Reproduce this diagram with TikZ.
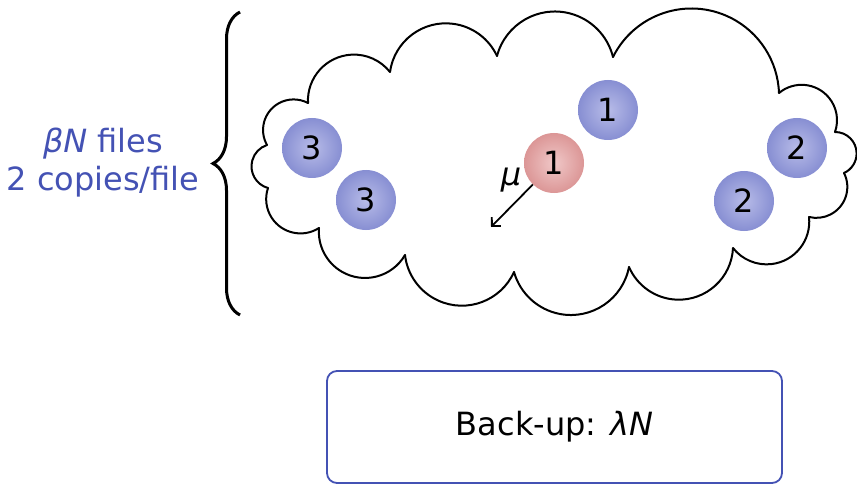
\documentclass[tikz,border=0pt]{standalone}
\usepackage{fontspec}
\setmainfont{DejaVu Sans}
\usetikzlibrary{decorations.pathreplacing,arrows.meta}
\definecolor{tblue}{RGB}{68,82,180}
\definecolor{bcin}{RGB}{184,188,232}
\definecolor{bcout}{RGB}{98,108,194}
\definecolor{rcin}{RGB}{240,200,200}
\definecolor{rcout}{RGB}{204,112,112}
\pgfdeclareradialshading{blueball}{\pgfpoint{0bp}{0bp}}{color(0bp)=(bcin); color(44bp)=(bcout); color(100bp)=(bcout)}
\pgfdeclareradialshading{redball}{\pgfpoint{0bp}{0bp}}{color(0bp)=(rcin); color(44bp)=(rcout); color(100bp)=(rcout)}
\newcommand\cloudbulb[5]{%
  \pgfmathsetmacro\cbMx{(#1+#3)/2}%
  \pgfmathsetmacro\cbMy{(#2+#4)/2}%
  \pgfmathsetmacro\cbDx{#3-#1}%
  \pgfmathsetmacro\cbDy{#4-#2}%
  \pgfmathsetmacro\cbL{veclen(\cbDx,\cbDy)}%
  \pgfmathsetmacro\cbC{\cbL/2}%
  \pgfmathsetmacro\cbR{(\cbC*\cbC+#5*#5)/(2*#5)}%
  \pgfmathsetmacro\cbNx{\cbDy/\cbL}%
  \pgfmathsetmacro\cbNy{-\cbDx/\cbL}%
  \pgfmathsetmacro\cbCx{\cbMx-(\cbR-#5)*\cbNx}%
  \pgfmathsetmacro\cbCy{\cbMy-(\cbR-#5)*\cbNy}%
  \pgfmathsetmacro\cbA{atan2(#2-\cbCy,#1-\cbCx)}%
  \pgfmathsetmacro\cbB{atan2(#4-\cbCy,#3-\cbCx)}%
  \pgfmathsetmacro\cbB{\cbB<\cbA ? \cbB+360 : \cbB}%
  \draw[cloudline] (#1,#2) arc[start angle=\cbA, end angle=\cbB, radius=\cbR];%
}
\tikzset{
  bigtext/.style={font=\fontsize{32}{38}\selectfont},
  ball/.style={circle, minimum size=60pt, inner sep=0pt, bigtext},
  blueb/.style={ball, shade, shading=blueball},
  redb/.style={ball, shade, shading=redball},
  cloudline/.style={line width=2pt, line cap=round, line join=round},
  arrowline/.style={line width=1.8pt, -{Straight Barb[length=6.4pt,width=12.8pt]}},
  bracestyle/.style={line width=3pt, decorate, decoration={brace, amplitude=27pt}},
  backupbox/.style={draw=tblue, line width=1.8pt, rounded corners=10pt, minimum width=455pt, minimum height=112pt, bigtext}
}
\begin{document}
\begin{tikzpicture}[x=1pt,y=-1pt]
\useasboundingbox (0,0) rectangle (857,484);
% cloud
\cloudbulb{267}{145}{308}{103}{22}
\cloudbulb{308}{103}{390}{72}{32}
\cloudbulb{390}{72}{497}{56}{40.5}
\cloudbulb{497}{56}{613}{57}{45}
\cloudbulb{613}{57}{779}{93}{66}
\cloudbulb{779}{93}{835}{132}{26}
\cloudbulb{835}{132}{844}{173}{17}
\cloudbulb{844}{173}{809}{217}{18}
\cloudbulb{809}{217}{733}{248}{31}
\cloudbulb{733}{248}{629}{267}{42}
\cloudbulb{629}{267}{514}{272}{45.5}
\cloudbulb{514}{272}{405}{255}{42}
\cloudbulb{405}{255}{319}{228}{36}
\cloudbulb{319}{228}{268}{188}{23}
\cloudbulb{268}{188}{267}{145}{16}
% brace
\coordinate (bbot) at (240,315);
\coordinate (btop) at (240,12);
\draw[bracestyle] (bbot) -- (btop);
% label
\node[bigtext, text=tblue, align=center] (files) at (103,163) {\textit{β}\textit{N} files\\2 copies/file};
% balls
\node[blueb] (b3a) at (312,148) {3};
\node[blueb] (b3b) at (366,200) {3};
\node[blueb] (b1) at (608,110) {1};
\node[redb] (r1) at (554,163) {1};
\node[blueb] (b2a) at (797,148) {2};
\node[blueb] (b2b) at (744,201) {2};
% arrow
\coordinate (mutip) at (491,227);
\draw[arrowline] (r1) -- (mutip);
\node[bigtext] (mu) at (511,180) {\textit{μ}};
% backup box
\node[backupbox] (backup) at (554.5,427) {Back-up: \textit{λ}\textit{N}};
\end{tikzpicture}
\end{document}
